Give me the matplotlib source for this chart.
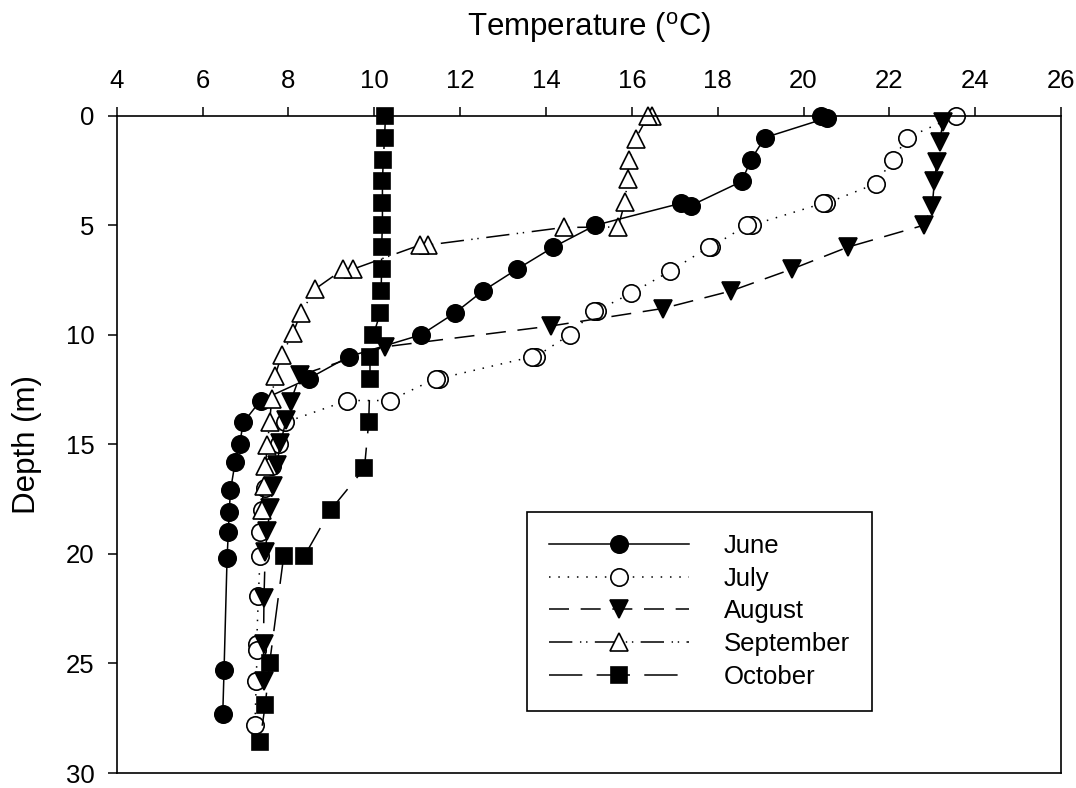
import matplotlib
matplotlib.use('Agg')
import matplotlib.pyplot as plt

# Temperature profiles (depth in m, temperature in deg C)
june_depth = [0, 0.1, 1, 2, 3, 4.1, 4, 5, 6, 7, 8, 9, 10, 11, 12, 13, 14, 15, 15.8, 17.1, 18.1, 19, 20.2, 25.3, 27.3]
june_temp = [20.4, 20.55, 19.1, 18.78, 18.56, 17.38, 17.14, 15.15, 14.17, 13.33, 12.53, 11.88, 11.09, 9.40, 8.47,
             7.35, 6.95, 6.86, 6.76, 6.65, 6.62, 6.6, 6.57, 6.5, 6.47]

july_depth = [0, 1, 2, 3.1, 4, 4, 5, 5, 6, 6, 7.1, 8.1, 8.9, 8.9, 10, 11, 11, 12, 12, 13, 13, 14, 15, 16, 17, 18,
              19, 20.1, 21.9, 24.1, 24.4, 25.8, 27.8]
july_temp = [23.56, 22.42, 22.08, 21.69, 20.53, 20.45, 18.79, 18.68, 17.84, 17.79, 16.89, 15.99, 15.18, 15.12, 14.55,
             13.76, 13.68, 11.5, 11.43, 10.36, 9.37, 7.92, 7.77, 7.62, 7.46, 7.38, 7.34, 7.34, 7.30, 7.26, 7.27,
             7.25, 7.22]

august_depth = [0.3, 1.2, 2.1, 3.0, 4.1, 5.0, 6.0, 7.0, 8.0, 8.8, 9.6, 10.55, 11.85, 13.05, 13.9, 14.95, 15.95,
                16.9, 17.9, 18.95, 19.9, 22.0, 24.1, 25.8]
august_temp = [23.25, 23.17, 23.11, 23.05, 23.0, 22.8, 21.03, 19.73, 18.31, 16.72, 14.11, 10.24, 8.27, 8.05, 7.95,
               7.81, 7.73, 7.65, 7.57, 7.51, 7.46, 7.43, 7.42, 7.42]

september_depth = [0, 0, 1.05, 2, 2.9, 3.95, 5.08, 5.1, 5.9, 5.9, 7, 7, 7.9, 9, 9.9, 10.9, 11.9, 12.95, 14, 15.05,
                   16, 16.9, 18]
september_temp = [16.46, 16.38, 16.09, 15.94, 15.9, 15.84, 15.68, 14.42, 11.26, 11.07, 9.51, 9.28, 8.63, 8.29, 8.11,
                  7.85, 7.68, 7.61, 7.56, 7.51, 7.46, 7.42, 7.38]

october_depth = [0, 1, 2, 3, 4, 5, 6, 7, 8, 9, 10, 11, 12, 14, 16.1, 18, 20.1, 20.1, 25, 26.9, 28.6]
october_temp = [10.26, 10.24, 10.21, 10.19, 10.19, 10.19, 10.17, 10.17, 10.16, 10.14, 9.98, 9.9, 9.9, 9.87, 9.77,
                8.98, 8.37, 7.89, 7.56, 7.46, 7.33]

x_ticks = list(range(4, 27, 2))
y_ticks = list(range(0, 31, 5))

if __name__ == '__main__':
    plt.rcParams['font.family'] = ['Liberation Sans', 'DejaVu Sans']
    plt.rcParams['mathtext.fontset'] = 'custom'
    plt.rcParams['mathtext.rm'] = 'Liberation Sans'
    plt.rcParams['lines.scale_dashes'] = False

    fig = plt.figure(figsize=(10.76, 7.88), dpi=100)
    ax = fig.add_axes([0.1085, 0.019, 0.8776, 0.8342])

    lw = 1.1
    common = dict(color='black', linewidth=lw, markeredgecolor='black', markeredgewidth=1.2, clip_on=False)

    ax.plot(june_temp, june_depth, linestyle='-', marker='o', markersize=12.5,
            markerfacecolor='black', label='June', **common)
    ax.plot(july_temp, july_depth, linestyle=(0, (1.1, 5.6)), marker='o', markersize=12.5,
            markerfacecolor='white', label='July', **common)
    ax.plot(august_temp, august_depth, linestyle=(0, (14.4, 8.4)), marker='v', markersize=12.5,
            markerfacecolor='black', label='August', **common)
    ax.plot(september_temp, september_depth, linestyle=(0, (16.8, 5.5, 1, 3.4, 1, 5.3)), marker='^',
            markersize=12.5, markerfacecolor='white', label='September', **common)
    ax.plot(october_temp, october_depth, linestyle=(0, (24, 10.3)), marker='s', markersize=11,
            markerfacecolor='black', label='October', **common)

    ax.set_xlim(4, 26)
    ax.set_ylim(30, 0)
    ax.xaxis.tick_top()
    ax.xaxis.set_label_position('top')
    ax.set_xticks(x_ticks)
    ax.set_yticks(y_ticks)
    ax.tick_params(axis='both', direction='out', length=6.5, width=1.1, pad=9.5, labelsize=18.5,
                   color='black', labelcolor='black')
    for spine in ax.spines.values():
        spine.set_linewidth(1.2)
        spine.set_color('black')

    ax.set_xlabel(r'Temperature ($\mathregular{^o}$C)', fontsize=22.5, labelpad=24)
    ax.set_ylabel('Depth (m)', fontsize=22.5, labelpad=17)

    leg = ax.legend(loc='upper left', bbox_to_anchor=(0.4345, 0.397), borderaxespad=0, fontsize=18.5,
                    numpoints=1, handlelength=5.45, handletextpad=1.36, labelspacing=0.34, borderpad=0.85,
                    fancybox=False, framealpha=1, edgecolor='black')
    leg.get_frame().set_linewidth(1.2)

    fig.savefig('out.png', dpi=100)
